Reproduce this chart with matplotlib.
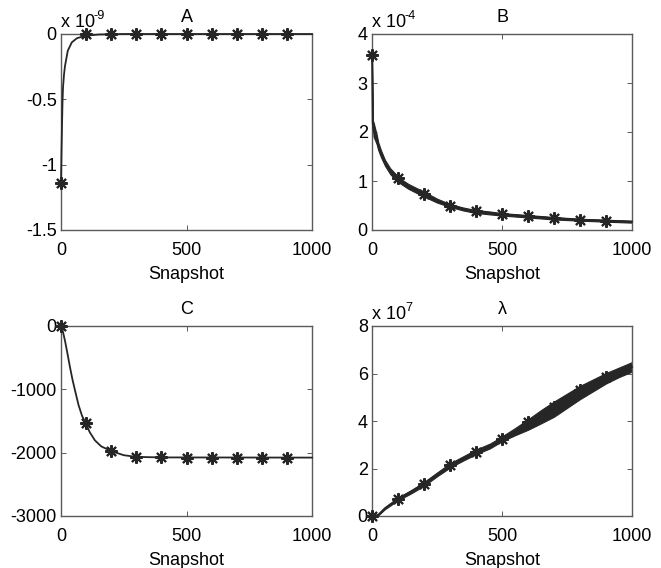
import matplotlib
matplotlib.use("Agg")
import matplotlib.pyplot as plt
import numpy as np

plt.rcParams['font.family'] = ['Liberation Sans', 'DejaVu Sans']
plt.rcParams['mathtext.fontset'] = 'custom'
plt.rcParams['mathtext.rm'] = 'Liberation Sans'

W, H = 661, 568

# ---- panel A (units of 1e-9) ----
A_x = [0, 2, 4, 6, 8, 12, 16, 27, 43, 63, 96, 150, 250, 1000]
A_y = [-1.15, -0.9, -0.7, -0.52, -0.41, -0.31, -0.244, -0.128, -0.064,
       -0.033, -0.013, -0.004, 0.0, 0.0]
A_mark_y = [-1.14, 0, 0, 0, 0, 0, 0, 0, 0, 0]

# ---- panel B (units of 1e-4) ----
B_x = [0, 2.6, 6, 12, 18, 24, 35, 50, 70, 95, 120, 140, 170, 201, 250,
       300, 350, 396, 450, 500, 600, 700, 800, 900, 1000]
B_y = [3.58, 2.19, 2.05, 1.95, 1.85, 1.71, 1.55, 1.37, 1.2, 1.06, 0.96,
       0.89, 0.81, 0.73, 0.6, 0.5, 0.43, 0.38, 0.35, 0.32, 0.28, 0.24,
       0.21, 0.19, 0.17]
B_spread = [0, 0.05, 0.15, 0.12, 0.1, 0.08, 0.07, 0.06, 0.06, 0.06, 0.05,
            0.05, 0.05, 0.05, 0.04, 0.03, 0.03, 0.03, 0.03, 0.025, 0.025,
            0.025, 0.02, 0.02, 0.02]
B_mark_y = [3.58, 1.06, 0.73, 0.5, 0.38, 0.32, 0.28, 0.24, 0.21, 0.19]

# ---- panel C ----
C_x = [0, 5, 10, 16, 25, 36, 46, 56, 70, 84, 98, 115, 135, 160, 200,
       250, 300, 400, 1000]
C_y = [0, -50, -130, -235, -420, -655, -850, -1020, -1250, -1420, -1534,
       -1680, -1805, -1900, -1975, -2040, -2067, -2075, -2078]
C_mark_y = [0, -1534, -1975, -2067, -2075, -2077, -2077, -2077, -2077, -2077]

# ---- panel lambda (units of 1e7) ----
D_x = [0, 10, 24, 50, 100, 150, 200, 250, 300, 350, 400, 454, 500, 550,
       600, 650, 700, 750, 800, 850, 900, 950, 1000]
D_y = [0, 0.01, 0.05, 0.33, 0.72, 1.02, 1.35, 1.75, 2.13, 2.42, 2.7, 2.95,
       3.25, 3.55, 3.85, 4.18, 4.5, 4.85, 5.2, 5.5, 5.8, 6.05, 6.28]
D_spread = [0, 0, 0.02, 0.04, 0.06, 0.07, 0.08, 0.08, 0.09, 0.09, 0.1, 0.1,
            0.1, 0.15, 0.22, 0.28, 0.32, 0.3, 0.28, 0.25, 0.22, 0.2, 0.2]
D_mark_y = [0, 0.72, 1.35, 2.15, 2.7, 3.25, 3.95, 4.6, 5.3, 5.85]

mark_x = [0, 100, 200, 300, 400, 500, 600, 700, 800, 900]

LINE = '#262626'
SPINE = '#5a5a5a'
FS = 13
ASTER = (8, 2, 0)

fig = plt.figure(figsize=(W / 100, H / 100), dpi=100)


def make_axes(l, r, t, b):
    return fig.add_axes([l / W, 1 - b / H, (r - l) / W, (b - t) / H])


def style(ax, yticks, ylabels, title, expo):
    ax.set_xlim(0, 1000)
    ax.set_xticks([0, 500, 1000])
    ax.set_xticklabels(['0', '500', '1000'])
    ax.set_yticks(yticks)
    ax.set_yticklabels(ylabels)
    ax.set_ylim(yticks[0], yticks[-1])
    ax.tick_params(direction='in', top=True, right=True, length=3.5,
                   width=0.7, color=SPINE, labelsize=FS, pad=3)
    ax.tick_params(axis='x', pad=8.5)
    for s in ax.spines.values():
        s.set_color(SPINE)
        s.set_linewidth(1.0)
    ax.set_xlabel('Snapshot', fontsize=FS, labelpad=5.5)
    ax.text(0.5, 1.0 + 17 / (ax.get_position().height * H), title,
            transform=ax.transAxes, ha='center', va='center', fontsize=FS)
    if expo:
        ax.text(0.0, 1.0 + 7 / (ax.get_position().height * H),
                'x 10', transform=ax.transAxes,
                ha='left', va='baseline', fontsize=FS)
        ax.text(0.0 + 33 / (ax.get_position().width * W),
                1.0 + 15 / (ax.get_position().height * H),
                expo, transform=ax.transAxes,
                ha='left', va='baseline', fontsize=FS * 0.7)


def draw(ax, x, y, my, spread=None):
    if spread is not None:
        lo = np.array(y) - np.array(spread)
        hi = np.array(y) + np.array(spread)
        ax.fill_between(x, lo, hi, color=LINE, lw=0.8, zorder=2)
    ax.plot(x, y, color=LINE, lw=1.3, zorder=3, clip_on=False)
    ax.plot(mark_x, my, ls='none', marker=ASTER, ms=9, mew=1.5,
            color=LINE, zorder=4, clip_on=False)


axA = make_axes(61, 312, 34, 230)
draw(axA, A_x, A_y, A_mark_y)
style(axA, [-1.5, -1, -0.5, 0], ['-1.5', '-1', '-0.5', '0'], 'A', '-9')

axB = make_axes(372, 632, 34, 230)
draw(axB, B_x, B_y, B_mark_y, B_spread)
style(axB, [0, 1, 2, 3, 4], ['0', '1', '2', '3', '4'], 'B', '-4')

axC = make_axes(61, 312, 326, 516)
draw(axC, C_x, C_y, C_mark_y)
style(axC, [-3000, -2000, -1000, 0], ['-3000', '-2000', '-1000', '0'], 'C', None)

axD = make_axes(372, 632, 326, 516)
draw(axD, D_x, D_y, D_mark_y, D_spread)
style(axD, [0, 2, 4, 6, 8], ['0', '2', '4', '6', '8'], 'λ', '7')

fig.savefig('out.png', dpi=100)
